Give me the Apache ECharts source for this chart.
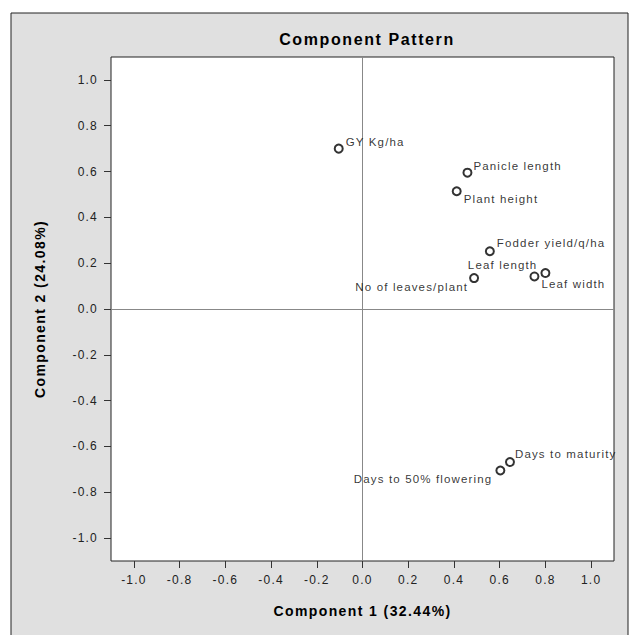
<!DOCTYPE html>
<html>
<head>
<meta charset="utf-8">
<script src="https://cdn.jsdelivr.net/npm/echarts@6/dist/echarts.min.js"></script>
<style>
  html, body { margin: 0; padding: 0; background: #fff; }
  #chart { width: 629px; height: 635px; }
  #chart text { letter-spacing: 0.1em; }
</style>
</head>
<body>
<div id="chart"></div>
<script>
// ---- data ----
const variables = ["GY Kg/ha", "Panicle length", "Plant height", "Fodder yield/q/ha",
  "Leaf length", "Leaf width", "No of leaves/plant", "Days to maturity", "Days to 50% flowering"];
const component1 = [-0.104, 0.459, 0.412, 0.557, 0.800, 0.752, 0.488, 0.645, 0.603];
const component2 = [0.700, 0.595, 0.514, 0.252, 0.157, 0.142, 0.135, -0.668, -0.705];
const tickValues = [-1.0, -0.8, -0.6, -0.4, -0.2, 0.0, 0.2, 0.4, 0.6, 0.8, 1.0];
const titleText = "Component Pattern";
const xName = "Component 1 (32.44%)";
const yName = "Component 2 (24.08%)";

// label placement (style only)
const labelPlacement = [
  { position: 'right', distance: 2, offset: [0, -7] },
  { position: 'right', distance: 1, offset: [0, -7] },
  { position: 'right', distance: 2, offset: [0, 8] },
  { position: 'right', distance: 2, offset: [0, -8] },
  { position: 'left',  distance: 3, offset: [0, -8] },
  { position: 'right', distance: 2, offset: [0, 8] },
  { position: 'left',  distance: 1, offset: [0, 9] },
  { position: 'right', distance: 0, offset: [0, -8] },
  { position: 'left',  distance: 3, offset: [0, 8] }
];

const points = variables.map((n, i) => ({
  name: n,
  value: [component1[i], component2[i]],
  label: labelPlacement[i]
}));

const chart = echarts.init(document.getElementById('chart'), null, { renderer: 'svg' });
const FONT = '"Liberation Sans", Arial, sans-serif';

const axisCommon = {
  type: 'value',
  min: -1.1,
  max: 1.1,
  nameLocation: 'middle',
  nameTextStyle: { fontFamily: FONT, fontWeight: 'bold', fontSize: 14, color: '#000' },
  axisLine: { show: false, onZero: false },
  axisTick: { show: true, inside: false, length: 7, customValues: tickValues,
    lineStyle: { color: '#333', width: 1 } },
  axisLabel: { show: true, customValues: tickValues, fontFamily: FONT, fontSize: 12, color: '#222',
    formatter: v => v.toFixed(1) },
  splitLine: { show: false }
};

chart.setOption({
  animation: false,
  backgroundColor: '#fff',
  graphic: [{
    type: 'rect', z: -10, silent: true,
    shape: { x: 11, y: 13, width: 617, height: 640 },
    style: { fill: '#e0e0e0', stroke: '#222', lineWidth: 1 }
  }],
  title: {
    text: titleText,
    left: 362, top: 26, textAlign: 'center',
    textStyle: { fontFamily: FONT, fontWeight: 'bold', fontSize: 16, color: '#000' }
  },
  grid: {
    left: 111, right: 15, top: 57, bottom: 74,
    show: true, backgroundColor: '#fff', borderColor: '#222', borderWidth: 1
  },
  xAxis: Object.assign({}, axisCommon, {
    name: xName, nameGap: 43,
    axisLabel: Object.assign({}, axisCommon.axisLabel, { margin: 13 })
  }),
  yAxis: Object.assign({}, axisCommon, {
    name: yName, nameGap: 64,
    axisLabel: Object.assign({}, axisCommon.axisLabel, { margin: 13 })
  }),
  series: [{
    type: 'scatter',
    symbol: 'emptyCircle',
    symbolSize: 8,
    itemStyle: { color: '#000', borderColor: '#000', borderWidth: 1.2 },
    label: {
      show: true,
      formatter: p => p.name,
      fontFamily: FONT, fontSize: 11.5, color: '#000'
    },
    data: points,
    z: 5,
    markLine: {
      silent: true, symbol: 'none', animation: false,
      label: { show: false },
      lineStyle: { color: '#888', width: 1, type: 'solid' },
      data: [{ xAxis: 0 }, { yAxis: 0 }]
    }
  }]
});
</script>
</body>
</html>
